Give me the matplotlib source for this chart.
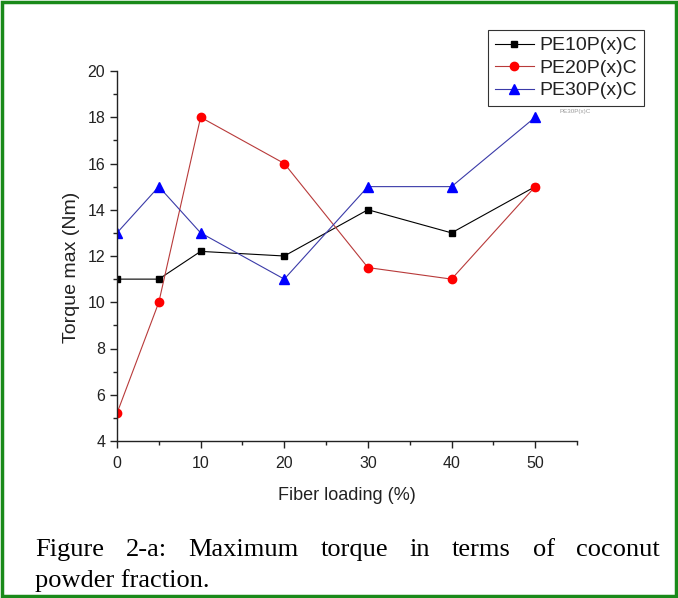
import matplotlib
matplotlib.use("Agg")
import matplotlib.pyplot as plt
from matplotlib.patches import Rectangle

# fiber loading (%) and max torque (Nm)
loading = [0, 5, 10, 20, 30, 40, 50]
pe10 = [11, 11, 12.2, 12, 14, 13, 15]
pe20 = [5.2, 10, 18, 16, 11.5, 11, 15]
pe30 = [13, 15, 13, 11, 15, 15, 18]
labels = ["PE10P(x)C", "PE20P(x)C", "PE30P(x)C"]
caption1 = "Figure 2-a: Maximum torque in terms of coconut"
caption2 = "powder fraction."

plt.rcParams['font.family'] = ['Liberation Sans', 'DejaVu Sans']
W, H = 678, 598

fig = plt.figure(figsize=(W / 100, H / 100), dpi=100)
ax = fig.add_axes([117 / W, 1 - 441 / H, (577 - 117) / W, (441 - 71) / H])

ax.plot(loading, pe10, color='black', lw=0.8, marker='s', ms=5, label=labels[0])
ax.plot(loading, pe20, color='#b83a3a', lw=0.8, marker='o', ms=6,
        mfc='red', mec='red', label=labels[1])
ax.plot(loading, pe30, color='#3a3aa8', lw=0.8, marker='^', ms=6.5,
        mfc='blue', mec='blue', label=labels[2])

ax.set_xlim(0, 55)
ax.set_ylim(4, 20)
ax.set_xticks([0, 10, 20, 30, 40, 50])
ax.set_xticks([5, 15, 25, 35, 45, 55], minor=True)
ax.set_yticks([4, 6, 8, 10, 12, 14, 16, 18, 20])
ax.set_yticks([5, 7, 9, 11, 13, 15, 17, 19], minor=True)
ax.tick_params(which='major', direction='out', length=5, width=1,
               labelsize=11.5, colors='#222222', labelcolor='#222222')
ax.tick_params(axis='x', which='major', pad=6)
ax.tick_params(which='minor', direction='out', length=3, width=1, colors='#222222')
ax.spines['top'].set_visible(False)
ax.spines['right'].set_visible(False)
for s in ('left', 'bottom'):
    ax.spines[s].set_linewidth(1)
    ax.spines[s].set_color('#222222')
ax.set_xlabel("Fiber loading (%)", fontsize=13, labelpad=11, color='#222222')
ax.set_ylabel("Torque max (Nm)", fontsize=14, color='#222222')
ax.yaxis.set_label_coords(-0.08, 0.468)

leg = fig.legend(loc='upper left', bbox_to_anchor=(488 / W, 1 - 30 / H), fontsize=14,
                 frameon=True, fancybox=False, edgecolor='black', handlelength=2.0,
                 borderpad=0.35, labelspacing=0.25, handletextpad=0.3,
                 borderaxespad=0)
leg.get_frame().set_linewidth(0.8)
for t in leg.get_texts():
    t.set_color('#222222')

# faint stray label under the legend
fig.text(575 / W, 1 - 113 / H, "PE30P(x)C", fontsize=4.5, color='#999999', ha='center')

# justified caption, serif font
serif = ['Liberation Serif', 'DejaVu Serif']
x0, x1 = 35, 660
words = caption1.split()
renderer = fig.canvas.get_renderer()
txts = [fig.text(0, 1 - 556 / H, w, fontsize=19, family=serif) for w in words]
widths = [t.get_window_extent(renderer).width for t in txts]
gap = (x1 - x0 - sum(widths)) / (len(words) - 1)
x = x0
for t, w in zip(txts, widths):
    t.set_x(x / W)
    x += w + gap
fig.text(x0 / W, 1 - 587 / H, caption2, fontsize=19, family=serif)

fig.patches.append(Rectangle((0.003, 0.003), 0.994, 0.994, transform=fig.transFigure,
                             fill=False, edgecolor='#1a8a1a', lw=2.5))

fig.savefig("out.png", dpi=100)
